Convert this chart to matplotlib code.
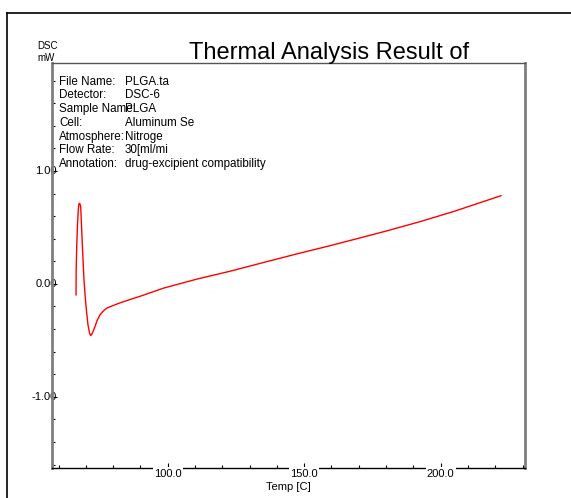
import numpy as np
import matplotlib
matplotlib.use("Agg")
import matplotlib.pyplot as plt
from matplotlib.lines import Line2D
from matplotlib.ticker import MultipleLocator
import matplotlib.transforms as mtransforms

plt.rcParams['font.family'] = ['Liberation Sans', 'DejaVu Sans']

# DSC trace: temperature [C] and heat flow [mW]
temp = [66.4, 66.46, 66.65, 66.94, 67.23, 67.42, 67.6, 67.86, 68.11, 68.3,
        68.48, 68.88, 69.32, 69.8, 70.31, 70.79, 71.34, 71.78, 72.25, 72.8,
        73.35, 74.08, 75.18, 76.28, 77.64, 79.58, 82.51, 86.17, 89.58, 98.37,
        110.6, 122.8, 135.0, 147.2, 159.4, 168.0, 180.2, 192.4, 204.6, 222.1]
dsc = [-0.097, 0.124, 0.33, 0.522, 0.655, 0.699, 0.714, 0.708, 0.684, 0.584,
       0.478, 0.257, 0.035, -0.124, -0.257, -0.363, -0.434, -0.458, -0.442, -0.412,
       -0.378, -0.327, -0.274, -0.243, -0.215, -0.195, -0.168, -0.138, -0.112, -0.038,
       0.042, 0.112, 0.189, 0.265, 0.338, 0.392, 0.469, 0.551, 0.64, 0.781]

xticks = [100.0, 150.0, 200.0]
xtick_labels = ["100.0", "150.0", "200.0"]
yticks = [1.0, 0.0, -1.0]
ytick_labels = ["1.00", "0.00", "-1.00"]

info_keys = ["File Name:", "Detector:", "Sample Name:", "Cell:",
             "Atmosphere:", "Flow Rate:", "Annotation:"]
info_vals = ["PLGA.ta", "DSC-6", "PLGA", "Aluminum Se", "Nitroge",
             "30[ml/mi", "drug-excipient compatibility"]

W, H = 571, 498
fig = plt.figure(figsize=(W / 100, H / 100), dpi=100)

# outer frame (top and left edge of the printout)
fig.add_artist(Line2D([7 / W, 1.0], [1 - 13 / H, 1 - 13 / H], color='black', lw=1.2))
fig.add_artist(Line2D([7 / W, 7 / W], [0, 1 - 13 / H], color='black', lw=1.2))

ax = fig.add_axes([52 / W, 30 / H, 473 / W, 405 / H])
ax.plot(temp, dsc, color='red', lw=1.0)
ax.set_xlim(57.6, 230.9)
ax.set_ylim(-1.63, 1.956)

for s in ['left', 'right']:
    ax.spines[s].set_color('#7f7f7f')
    ax.spines[s].set_linewidth(2)
ax.spines['top'].set_color('#555555')
ax.spines['top'].set_linewidth(1)
ax.spines['bottom'].set_color('black')
ax.spines['bottom'].set_linewidth(1)

ax.set_xticks(xticks)
ax.xaxis.set_minor_locator(MultipleLocator(10))
ax.set_yticks(yticks)
ax.yaxis.set_minor_locator(MultipleLocator(0.2))
ax.tick_params(which='both', direction='in', labelbottom=False, labelleft=False,
               color='black', width=0.8)
ax.tick_params(which='major', length=3.5)
ax.tick_params(which='minor', length=2)

# x tick labels, white box cuts the axis line
xt = ax.get_xaxis_transform()
for x, lab in zip(xticks, xtick_labels):
    ax.text(x, -0.002, lab, transform=xt, ha='center', va='top', fontsize=8,
            clip_on=False, zorder=5,
            bbox=dict(facecolor='white', edgecolor='none', pad=1))

# y tick labels sit partly under the left axis line
yt = mtransforms.blended_transform_factory(ax.transAxes, ax.transData)
for y, lab in zip(yticks, ytick_labels):
    ax.text(4.5 / 473, y, lab, transform=yt, ha='right', va='center', fontsize=8,
            clip_on=False, zorder=1)

ax.text(0.5, -0.035, "Temp [C]", transform=ax.transAxes, ha='center', va='top',
        fontsize=8, clip_on=False)

fig.text(37.5 / W, 1 - 46 / H, "DSC", fontsize=7, ha='left', va='center')
fig.text(37.5 / W, 1 - 58 / H, "mW", fontsize=7, ha='left', va='center')

fig.text(329 / W, 1 - 59 / H, "Thermal Analysis Result of", fontsize=17,
         ha='center', va='baseline')

for i, (k, v) in enumerate(zip(info_keys, info_vals)):
    yy = 1 - (81.7 + i * 13.7) / H
    fig.text(59 / W, yy, k, fontsize=8.4, ha='left', va='center')
    fig.text(125 / W, yy, v, fontsize=8.4, ha='left', va='center')

fig.savefig("out.png", dpi=100)
